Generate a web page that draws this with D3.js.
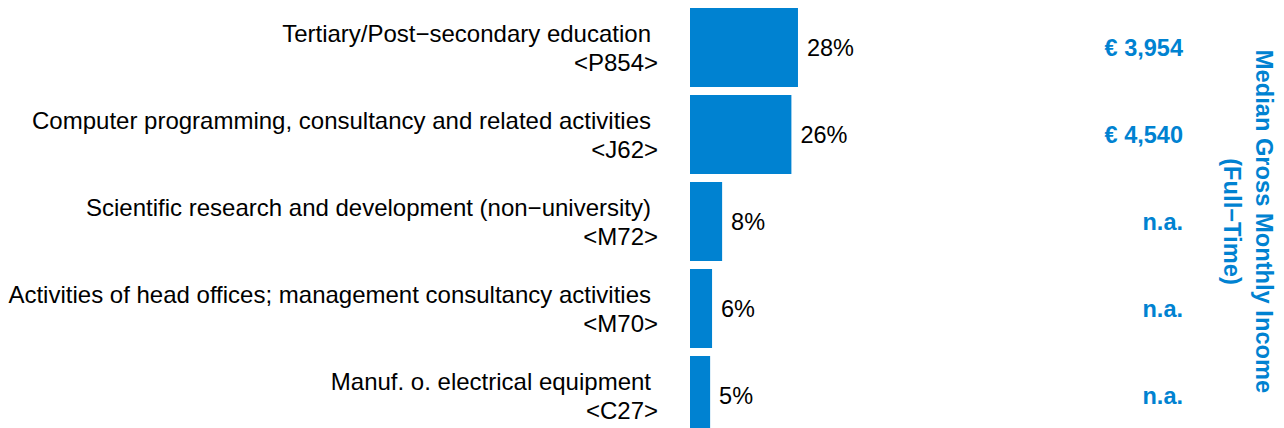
<!DOCTYPE html>
<html>
<head>
<meta charset="utf-8">
<script src="https://cdn.jsdelivr.net/npm/d3@7"></script>
<style>
	body { margin: 0; background: #fff; }
	svg { display: block; font-family: "Liberation Sans", Arial, sans-serif; }
</style>
</head>
<body>
<svg width="1284" height="428"></svg>
<script>
// data
var sectors = [
	"Tertiary/Post\u2212secondary education",
	"Computer programming, consultancy and related activities",
	"Scientific research and development (non\u2212university)",
	"Activities of head offices; management consultancy activities",
	"Manuf. o. electrical equipment"
];
var codes = ["<P854>", "<J62>", "<M72>", "<M70>", "<C27>"];
var shares = [27.9, 26.2, 8.3, 5.7, 5.2];
var incomes = [3954, 4540, null, null, null];
var titleLines = ["Median Gross Monthly Income", "(Full\u2212Time)"];

var blue = "#0082d1";
var fontSize = 24;

var svg = d3.select("svg");

var rows = sectors.map(function(s, i) {
	return { sector: s, code: codes[i], share: shares[i], income: incomes[i] };
});

// set the ranges
var y = d3.scaleBand()
	.domain(d3.range(rows.length))
	.range([4, 439])
	.paddingInner(0.092)
	.paddingOuter(0.046);
var x = d3.scaleLinear().domain([0, 100]).range([690, 1077]);

var pct = function(v) { return d3.format(".0f")(v) + "%"; };
var euro = function(v) { return v == null ? "n.a." : "\u20ac " + d3.format(",")(v); };

var row = svg.selectAll("g.row")
	.data(rows)
	.enter().append("g")
	.attr("class", "row");

// bars
row.append("rect")
	.attr("x", x(0))
	.attr("y", function(d, i) { return y(i); })
	.attr("width", function(d) { return x(d.share) - x(0); })
	.attr("height", y.bandwidth())
	.attr("fill", blue);

var mid = function(i) { return y(i) + y.bandwidth() / 2; };

// sector labels, two lines
row.append("text")
	.attr("x", 651)
	.attr("y", function(d, i) { return mid(i) - 6; })
	.attr("text-anchor", "end")
	.style("font-size", fontSize + "px")
	.attr("fill", "#000")
	.text(function(d) { return d.sector; });

row.append("text")
	.attr("x", 658)
	.attr("y", function(d, i) { return mid(i) + 23.5; })
	.attr("text-anchor", "end")
	.style("font-size", fontSize + "px")
	.attr("fill", "#000")
	.text(function(d) { return d.code; });

// percentages
row.append("text")
	.attr("x", function(d) { return x(d.share) + 9; })
	.attr("y", function(d, i) { return mid(i) + 8.5; })
	.style("font-size", "23.5px")
	.attr("fill", "#000")
	.text(function(d) { return pct(d.share); });

// income
row.append("text")
	.attr("x", 1183)
	.attr("y", function(d, i) { return mid(i) + 8.5; })
	.attr("text-anchor", "end")
	.style("font-size", "23.5px")
	.style("font-weight", "bold")
	.attr("fill", blue)
	.text(function(d) { return euro(d.income); });

// rotated title
var title = svg.append("g")
	.attr("transform", "translate(1256," + mid(2) + ") rotate(90)");

title.selectAll("text")
	.data(titleLines)
	.enter().append("text")
	.attr("x", 0)
	.attr("y", function(d, i) { return i * 32; })
	.attr("text-anchor", "middle")
	.style("font-size", "23.7px")
	.style("font-weight", "bold")
	.attr("fill", blue)
	.text(function(d) { return d; });
</script>
</body>
</html>
